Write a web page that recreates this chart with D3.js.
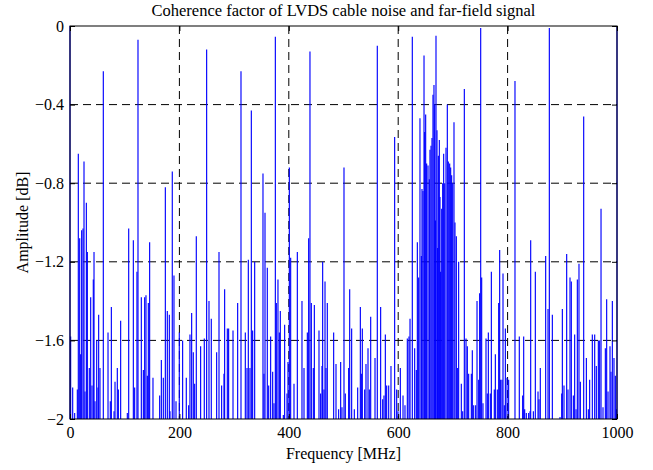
<!DOCTYPE html>
<html>
<head>
<meta charset="utf-8">
<script src="https://cdn.jsdelivr.net/npm/d3@7"></script>
<style>
  body { margin: 0; background: #fff; }
  svg text { font-family: "Liberation Serif", "Times New Roman", serif; fill: #000; }
</style>
</head>
<body>
<svg id="chart" width="653" height="470"></svg>
<script>
// 周波数 [MHz]（0-330）
var freqA = [0, 1.2, 4.9, 8.5, 13.4, 15.2, 17.7, 19.5, 21.3, 23.8, 25.6, 27.4, 29.9, 31.7, 35.3, 37.8, 40.2, 42.6, 43.9, 45.7,
  48.8, 51.2, 52.4, 54.8, 60.9, 69.5, 73.7, 75.6, 80.5, 82.3, 86.5, 88.4, 92.6, 104.8, 107.3, 115.8, 118.2, 122.4, 124.3, 130.4,
  134.1, 136.5, 138.9, 141.4, 143.2, 145.6, 151.7, 163.9, 167.0, 170.6, 174.3, 177.9, 181.6, 182.8, 187.0, 190.1, 193.8, 199.8, 205.9, 212.6,
  216.9, 219.3, 222.4, 225.4, 227.9, 230.9, 238.8, 245.5, 249.8, 254.1, 258.3, 268.1, 272.4, 277.2, 281.5, 282.7, 287.6, 290.0, 298.0, 306.5,
  312.6, 320.5, 323.6, 326.0, 329.0, 331.5, 333.9];
var ampA = [0, -1.58, -1.84, -1.97, -1.85, -0.65, -1.08, -1.67, -1.04, -1.03, -0.69, -1.86, -0.90, -1.15, -1.74, -1.38, -1.83, -1.29, -1.15, -1.91,
  -1.60, -1.84, -1.47, -1.74, -0.23, -1.56, -1.91, -1.43, -1.96, -1.81, -1.74, -1.85, -1.50, -1.97, -1.03, -1.09, -1.84, -1.25, -0.07, -1.38,
  -1.75, -1.38, -1.37, -1.78, -1.41, -1.10, -1.79, -1.88, -1.70, -1.79, -0.82, -1.45, -1.47, -1.96, -0.74, -1.27, -1.91, -1.56, -1.60, -1.79,
  -1.93, -1.57, -1.46, -1.66, -1.82, -1.07, -1.63, -1.59, -0.12, -1.40, -1.49, -1.66, -1.15, -1.83, -1.77, -1.34, -1.54, -1.54, -1.55, -1.41,
  -0.23, -1.56, -1.74, -1.19, -1.74, -0.43, -1.55];

// 周波数 [MHz]（330-620）
var freqB = [337.6, 352.8, 354.6, 356.5, 360.7, 363.2, 366.8, 370.5, 372.9, 375.4, 377.2, 380.2, 382.7, 384.5, 390.0, 392.4, 396.7, 398.5, 401.0, 403.4,
  409.5, 415.6, 424.1, 427.8, 433.9, 436.3, 438.7, 441.2, 444.8, 446.7, 455.2, 458.2, 460.7, 461.9, 464.3, 466.2, 468.0, 470.4, 482.0, 486.3,
  491.1, 494.8, 497.2, 500.9, 503.3, 509.4, 511.3, 514.9, 519.8, 525.9, 530.8, 532.6, 534.4, 538.7, 541.1, 544.8, 547.2, 549.7, 557.6, 561.8,
  567.9, 571.6, 574.0, 576.5, 578.9, 582.6, 586.8, 593.5, 597.2, 599.6, 603.9, 608.8, 612.4, 616.7, 619.7];
var ampB = [-1.20, -0.75, -1.77, -0.95, -1.23, -1.83, -1.58, -1.76, -1.92, -0.055, -1.41, -1.29, -1.56, -1.45, -1.98, -1.52, -1.87, -1.71, -0.72, -1.18,
  -1.82, -1.15, -1.40, -1.74, -1.56, -1.08, -0.13, -1.41, -1.74, -1.42, -1.55, -1.87, -1.73, -1.20, -1.85, -1.30, -1.74, -1.41, -1.56, -1.72,
  -1.95, -1.71, -1.94, -0.72, -1.87, -1.74, -1.34, -1.54, -1.95, -1.84, -1.43, -1.77, -1.54, -1.85, -1.72, -1.64, -1.85, -1.48, -1.69, -0.10,
  -1.43, -1.90, -1.88, -1.57, -1.83, -1.83, -1.73, -0.565, -1.85, -1.96, -1.74, -1.88, -1.93, -1.59, -1.58];

// 周波数 [MHz]（620-720, 信号帯域）
var freqC = [621.6, 625.8, 630.1, 633.1, 635.0, 637.4, 639.8, 642.3, 643.5, 645.3, 647.2, 648.4, 650.2, 652.0, 654.5, 656.9, 658.1, 660.0, 661.8, 663.6,
  665.4, 666.7, 667.9, 669.1, 670.9, 672.1, 673.4, 675.2, 676.4, 677.6, 679.5, 681.3, 683.1, 685.0, 687.4, 689.8, 691.6, 694.1, 695.9, 697.7,
  699.6, 702.0, 703.8, 706.3, 708.1, 710.5, 715.4, 717.9];
var ampC = [-1.49, -0.055, -1.64, -1.75, -1.10, -1.28, -0.47, -1.17, -0.83, -0.84, -0.15, -0.54, -0.45, -0.70, -0.71, -0.78, -0.63, -0.61, -0.57, -0.35,
  -0.30, -0.40, -0.99, -0.05, -0.53, -1.13, -0.66, -0.58, -0.87, -1.25, -0.93, -0.80, -0.65, -0.80, -0.62, -0.40, -0.69, -0.70, -0.72, -0.76,
  -0.80, -0.49, -1.00, -1.07, -1.74, -1.20, -1.82, -1.96];

// 周波数 [MHz]（720-1000）
var freqD = [720.9, 724.0, 726.4, 728.8, 733.7, 735.5, 738.0, 741.6, 744.1, 747.1, 748.9, 750.8, 752.6, 755.0, 760.5, 762.9, 764.8, 768.4, 770.3, 775.7,
  777.6, 781.2, 783.7, 785.5, 787.3, 789.8, 791.6, 794.0, 795.9, 798.9, 801.9, 813.5, 821.4, 827.5, 829.4, 831.2, 834.2, 838.5, 841.0, 842.2,
  847.1, 850.7, 855.6, 857.4, 859.8, 869.6, 873.9, 876.3, 881.8, 895.8, 898.9, 900.1, 903.1, 908.0, 910.4, 914.1, 916.5, 920.2, 922.6, 925.1,
  927.5, 930.5, 933.0, 939.1, 944.0, 947.6, 950.0, 954.9, 959.2, 962.2, 965.9, 968.3, 970.8, 974.4, 978.7, 981.1, 983.6, 987.2, 989.0, 991.5,
  994.5, 997.0, 998.8, 1000];
var ampD = [-0.32, -1.59, -1.63, -1.77, -1.77, -1.65, -1.93, -1.93, -1.40, -1.80, -1.36, -0.01, -1.28, -1.92, -1.59, -1.87, -1.56, -1.87, -1.25, -1.85,
  -1.67, -1.85, -1.41, -1.14, -1.80, -1.80, -1.26, -1.93, -1.54, -1.79, -1.80, -0.28, -1.58, -1.88, -1.58, -1.95, -1.97, -1.97, -1.96, -1.09,
  -1.96, -1.25, -1.86, -1.90, -1.74, -1.17, -1.44, -0.01, -1.47, -1.99, -1.87, -1.44, -1.83, -1.16, -1.85, -1.28, -1.30, -1.88, -1.57, -1.95,
  -1.29, -1.21, -1.81, -0.46, -1.69, -1.95, -1.80, -1.57, -1.57, -1.73, -1.60, -1.60, -0.93, -1.94, -1.64, -1.39, -1.86, -1.63, -1.76, -1.40,
  -1.69, -1.78, -1.95, 0];

var xTicks = [0, 200, 400, 600, 800, 1000];
var yTicks = [0, -0.4, -0.8, -1.2, -1.6, -2];

var freqs = freqA.concat(freqB, freqC, freqD);
var amps = ampA.concat(ampB, ampC, ampD);
var spikes = freqs.map((f, i) => ({ f: f, a: amps[i] }));

var margin = { left: 70, right: 36, top: 26, bottom: 51 };
var width = 653 - margin.left - margin.right;
var height = 470 - margin.top - margin.bottom;

var svg = d3.select("#chart");
var g = svg.append("g").attr("transform", `translate(${margin.left},${margin.top})`);

var x = d3.scaleLinear().domain([0, 1000]).range([0, width]);
var y = d3.scaleLinear().domain([-2, 0]).range([height, 0]);

// グリッド（破線）
g.append("g")
  .selectAll("line")
  .data(xTicks.slice(1, -1))
  .enter()
  .append("line")
  .attr("x1", (d) => x(d))
  .attr("x2", (d) => x(d))
  .attr("y1", 0)
  .attr("y2", height)
  .attr("stroke", "#000")
  .attr("stroke-dasharray", "8,5");
g.append("g")
  .selectAll("line")
  .data(yTicks.slice(1, -1))
  .enter()
  .append("line")
  .attr("x1", 0)
  .attr("x2", width)
  .attr("y1", (d) => y(d))
  .attr("y2", (d) => y(d))
  .attr("stroke", "#000")
  .attr("stroke-dasharray", "8,5");

// スパイク
g.append("g")
  .selectAll("line")
  .data(spikes)
  .enter()
  .append("line")
  .attr("x1", (d) => x(d.f))
  .attr("x2", (d) => x(d.f))
  .attr("y1", y(-2))
  .attr("y2", (d) => y(d.a))
  .attr("stroke", "#0000ff")
  .attr("stroke-width", 1.15);

// 軸（内向き目盛）
var tickLen = 5;
var xAxis = d3.axisBottom(x).tickValues(xTicks).tickSize(-tickLen).tickPadding(8).tickFormat(d3.format("d"));
var yAxis = d3.axisLeft(y).tickValues(yTicks).tickSize(-tickLen).tickPadding(6).tickFormat((d) => (d === 0 ? "0" : d3.format("")(d)));
var gx = g.append("g").attr("transform", `translate(0,${height})`).call(xAxis);
var gy = g.append("g").call(yAxis);
g.append("g").call(d3.axisTop(x).tickValues(xTicks).tickSize(-tickLen).tickFormat(""));
g.append("g").attr("transform", `translate(${width},0)`).call(d3.axisRight(y).tickValues(yTicks).tickSize(-tickLen).tickFormat(""));
g.selectAll(".domain").remove();
g.selectAll(".tick line").attr("stroke", "#000");
[gx, gy].forEach((a) => a.selectAll("text").style("font-size", "16px").style("font-family", "'Liberation Serif', serif"));

g.append("rect")
  .attr("x", 0)
  .attr("y", 0)
  .attr("width", width)
  .attr("height", height)
  .attr("fill", "none")
  .attr("stroke", "#000")
  .attr("stroke-width", 1);

// タイトル・ラベル
svg.append("text")
  .attr("x", margin.left + width / 2)
  .attr("y", 16)
  .attr("text-anchor", "middle")
  .style("font-size", "16.5px")
  .text("Coherence factor of LVDS cable noise and far-field signal");
svg.append("text")
  .attr("x", margin.left + width / 2)
  .attr("y", 459)
  .attr("text-anchor", "middle")
  .style("font-size", "16px")
  .text("Frequency [MHz]");
svg.append("text")
  .attr("transform", `translate(28,${margin.top + height / 2}) rotate(-90)`)
  .attr("text-anchor", "middle")
  .style("font-size", "16px")
  .text("Amplitude [dB]");
</script>
</body>
</html>
